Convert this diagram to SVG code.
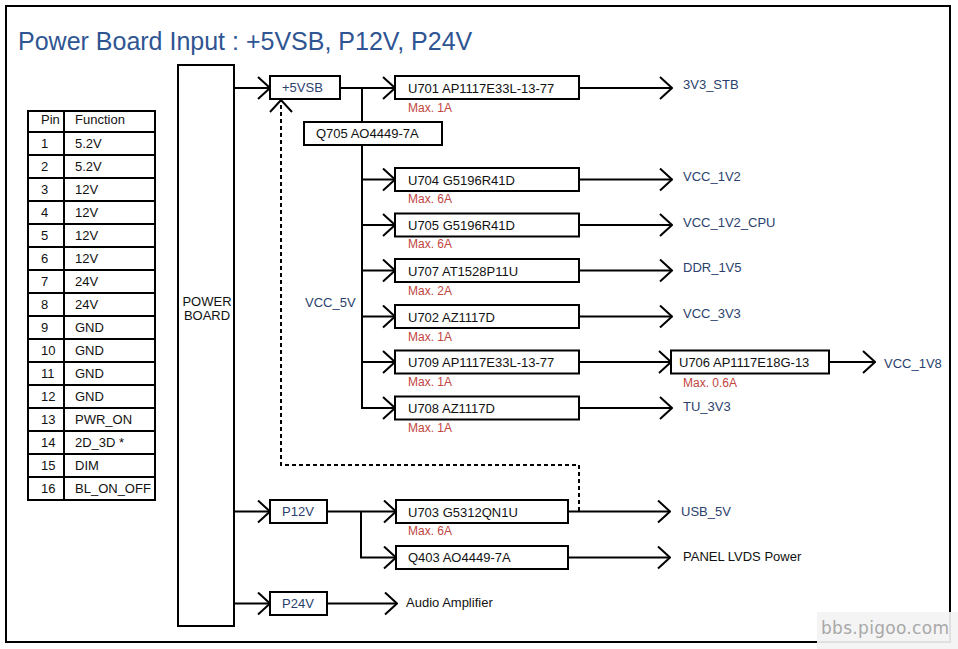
<svg xmlns="http://www.w3.org/2000/svg" width="958" height="649" viewBox="0 0 958 649">
<defs>
<style>
.t{font-family:"Liberation Sans",Arial,sans-serif;font-size:13px;fill:#111}
.b{fill:#fff;stroke:#000;stroke-width:2}
.c{fill:none;stroke:#000;stroke-width:2}
.blue{fill:#2b3f6e}
.red{font-size:12px;fill:#c2453f}
.title{font-family:"Liberation Sans",Arial,sans-serif;font-size:25px;fill:#2f5592}
</style>
<marker id="ah" viewBox="0 0 14 24" refX="13" refY="12" markerWidth="14" markerHeight="24" markerUnits="userSpaceOnUse" orient="auto">
<path d="M1,1 L13,12 L1,23" fill="none" stroke="#000" stroke-width="2" stroke-dasharray="none"/>
</marker>
</defs>
<rect x="0" y="0" width="958" height="649" fill="#fff"/>
<rect x="6" y="6" width="944" height="636" fill="none" stroke="#000" stroke-width="2"/>
<text class="title" x="18" y="50">Power Board Input : +5VSB, P12V, P24V</text>

<g id="pin-table">
<rect x="28" y="111" width="127" height="389" fill="#fff" stroke="#000" stroke-width="2"/>
<path d="M64,111 V500 M28,132 H155 M28,155 H155 M28,178 H155 M28,201 H155 M28,224 H155 M28,247 H155 M28,270 H155 M28,293 H155 M28,316 H155 M28,339 H155 M28,362 H155 M28,385 H155 M28,408 H155 M28,431 H155 M28,454 H155 M28,477 H155" stroke="#000" stroke-width="2" fill="none"/>
<text class="t" x="41" y="124">Pin</text><text class="t" x="75" y="124">Function</text>
<text class="t" x="41" y="148">1</text><text class="t" x="75" y="148">5.2V</text>
<text class="t" x="41" y="171">2</text><text class="t" x="75" y="171">5.2V</text>
<text class="t" x="41" y="194">3</text><text class="t" x="75" y="194">12V</text>
<text class="t" x="41" y="217">4</text><text class="t" x="75" y="217">12V</text>
<text class="t" x="41" y="240">5</text><text class="t" x="75" y="240">12V</text>
<text class="t" x="41" y="263">6</text><text class="t" x="75" y="263">12V</text>
<text class="t" x="41" y="286">7</text><text class="t" x="75" y="286">24V</text>
<text class="t" x="41" y="309">8</text><text class="t" x="75" y="309">24V</text>
<text class="t" x="41" y="332">9</text><text class="t" x="75" y="332">GND</text>
<text class="t" x="41" y="355">10</text><text class="t" x="75" y="355">GND</text>
<text class="t" x="41" y="378">11</text><text class="t" x="75" y="378">GND</text>
<text class="t" x="41" y="401">12</text><text class="t" x="75" y="401">GND</text>
<text class="t" x="41" y="424">13</text><text class="t" x="75" y="424">PWR_ON</text>
<text class="t" x="41" y="447">14</text><text class="t" x="75" y="447">2D_3D *</text>
<text class="t" x="41" y="470">15</text><text class="t" x="75" y="470">DIM</text>
<text class="t" x="41" y="493">16</text><text class="t" x="75" y="493">BL_ON_OFF</text>
</g>

<g id="connectors">
<path class="c" d="M234,88 H270" marker-end="url(#ah)"/>
<path class="c" d="M340,88 H395" marker-end="url(#ah)"/>
<path class="c" d="M362,88 V122"/>
<path class="c" d="M362,145 V408"/>
<path class="c" d="M362,179.5 H395" marker-end="url(#ah)"/>
<path class="c" d="M362,225 H395" marker-end="url(#ah)"/>
<path class="c" d="M362,270.5 H395" marker-end="url(#ah)"/>
<path class="c" d="M362,316.5 H395" marker-end="url(#ah)"/>
<path class="c" d="M362,362 H395" marker-end="url(#ah)"/>
<path class="c" d="M361,408 H395" marker-end="url(#ah)"/>
<path class="c" d="M579,88 H672" marker-end="url(#ah)"/>
<path class="c" d="M579,179.5 H672" marker-end="url(#ah)"/>
<path class="c" d="M579,225 H672" marker-end="url(#ah)"/>
<path class="c" d="M579,270.5 H672" marker-end="url(#ah)"/>
<path class="c" d="M579,316.5 H672" marker-end="url(#ah)"/>
<path class="c" d="M579,362 H671" marker-end="url(#ah)"/>
<path class="c" d="M829,362 H875" marker-end="url(#ah)"/>
<path class="c" d="M579,408 H672" marker-end="url(#ah)"/>
<path class="c" d="M234,511.5 H270" marker-end="url(#ah)"/>
<path class="c" d="M327,511.5 H396" marker-end="url(#ah)"/>
<path class="c" d="M361,511.5 V557.5 H396" marker-end="url(#ah)"/>
<path class="c" d="M568,511.5 H670" marker-end="url(#ah)"/>
<path class="c" d="M568,557.5 H670" marker-end="url(#ah)"/>
<path class="c" d="M234,603.5 H270" marker-end="url(#ah)"/>
<path class="c" d="M327,603.5 H397" marker-end="url(#ah)"/>
<path class="c" d="M579,511 V465 H281 V100" stroke-dasharray="4,3" marker-end="url(#ah)"/>
</g>

<g id="power-board"><rect class="b" x="178" y="65" width="56" height="561"/>
<text class="t" x="207" y="306" text-anchor="middle" font-size="12.5">POWER</text><text class="t" x="207" y="320" text-anchor="middle" font-size="12.5">BOARD</text></g>

<g id="n-5vsb"><rect class="b" x="270" y="76" width="70" height="23"/><text class="t blue" x="282" y="92">+5VSB</text></g>
<g id="n-q705"><rect class="b" x="304" y="122" width="138" height="23"/><text class="t" x="316" y="138">Q705 AO4449-7A</text></g>
<text id="vcc5v" class="t blue" x="305" y="307">VCC_5V</text>

<g id="n-u701"><rect class="b" x="395" y="76" width="184" height="23"/><text class="t" x="408" y="93">U701 AP1117E33L-13-77</text><text class="t red" x="408" y="112">Max. 1A</text></g>
<g id="n-u704"><rect class="b" x="395" y="168" width="184" height="23"/><text class="t" x="408" y="185">U704 G5196R41D</text><text class="t red" x="408" y="203">Max. 6A</text></g>
<g id="n-u705"><rect class="b" x="395" y="213.5" width="184" height="23"/><text class="t" x="408" y="230">U705 G5196R41D</text><text class="t red" x="408" y="248">Max. 6A</text></g>
<g id="n-u707"><rect class="b" x="395" y="259" width="184" height="23"/><text class="t" x="408" y="276">U707 AT1528P11U</text><text class="t red" x="408" y="295">Max. 2A</text></g>
<g id="n-u702"><rect class="b" x="395" y="305" width="184" height="23"/><text class="t" x="408" y="322">U702 AZ1117D</text><text class="t red" x="408" y="341">Max. 1A</text></g>
<g id="n-u709"><rect class="b" x="395" y="350.5" width="184" height="23"/><text class="t" x="408" y="367">U709 AP1117E33L-13-77</text><text class="t red" x="408" y="386">Max. 1A</text></g>
<g id="n-u708"><rect class="b" x="395" y="396.5" width="184" height="23"/><text class="t" x="408" y="413">U708 AZ1117D</text><text class="t red" x="408" y="432">Max. 1A</text></g>
<g id="n-u706"><rect class="b" x="671" y="350.5" width="158" height="23"/><text class="t" x="679" y="367">U706 AP1117E18G-13</text><text class="t red" x="683" y="387">Max. 0.6A</text></g>

<g id="n-p12v"><rect class="b" x="270" y="500" width="57" height="23"/><text class="t blue" x="282" y="516">P12V</text></g>
<g id="n-p24v"><rect class="b" x="270" y="592" width="57" height="23"/><text class="t blue" x="282" y="608">P24V</text></g>
<g id="n-u703"><rect class="b" x="396" y="500" width="172" height="23"/><text class="t" x="408" y="517">U703 G5312QN1U</text><text class="t red" x="408" y="535">Max. 6A</text></g>
<g id="n-q403"><rect class="b" x="396" y="546" width="172" height="23"/><text class="t" x="408" y="562">Q403 AO4449-7A</text></g>

<g id="outputs">
<text class="t blue" x="683" y="89">3V3_STB</text>
<text class="t blue" x="683" y="181">VCC_1V2</text>
<text class="t blue" x="683" y="227">VCC_1V2_CPU</text>
<text class="t blue" x="683" y="272">DDR_1V5</text>
<text class="t blue" x="683" y="318">VCC_3V3</text>
<text class="t blue" x="884" y="368">VCC_1V8</text>
<text class="t blue" x="683" y="411">TU_3V3</text>
<text class="t blue" x="681" y="516">USB_5V</text>
<text class="t" x="683" y="561">PANEL LVDS Power</text>
<text class="t" x="406" y="607">Audio Amplifier</text>
</g>

<rect x="817" y="612" width="141" height="37" fill="#f3f3f3" opacity="0.92"/>
<text x="821" y="634" font-family="DejaVu Sans, sans-serif" font-size="17" fill="#a8a8a8" letter-spacing="0.3">bbs.pigoo.com</text>
</svg>
